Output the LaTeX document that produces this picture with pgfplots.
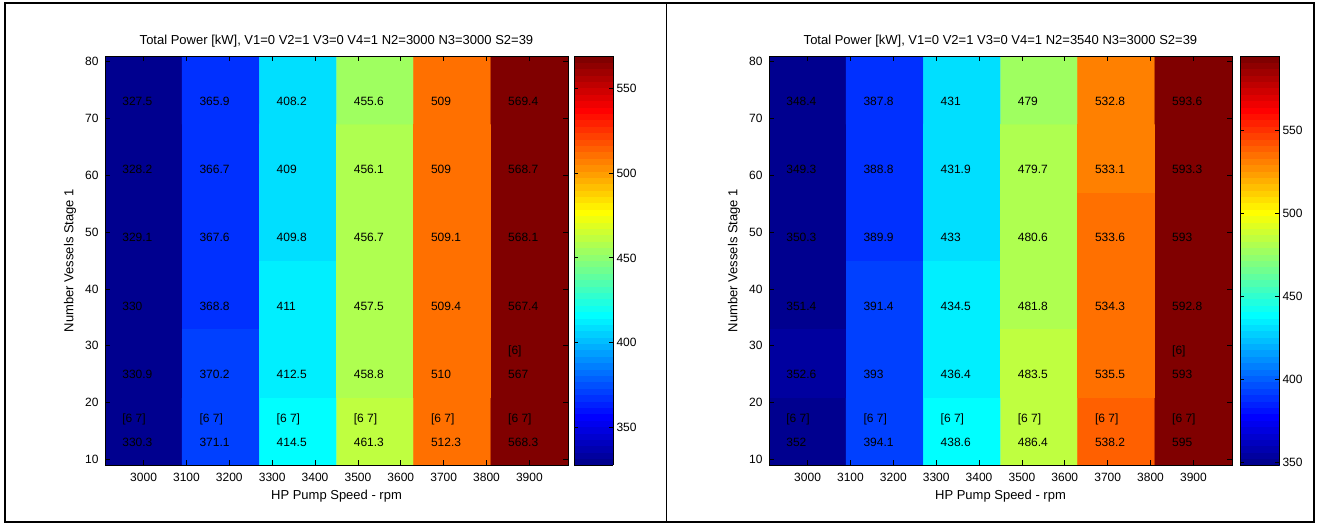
\documentclass[border=0pt]{standalone}
\usepackage{pgfplots}
\usepackage{pgfplotstable}
\pgfplotsset{compat=1.18}
\usepackage{fontspec}
\setmainfont{Liberation Sans}
\newcommand\fsz{\fontsize{12bp}{14bp}\selectfont}
\newcommand\fsl{\fontsize{13bp}{15bp}\selectfont}

\pgfplotsset{
  colormap={matjet}{rgb(0cm)=(0,0,0.5625) rgb(7cm)=(0,0,1) rgb(23cm)=(0,1,1) rgb(39cm)=(1,1,0) rgb(55cm)=(1,0,0) rgb(63cm)=(0.5,0,0)},
  colormap={jetsixtyfour}{samples of colormap=(64 of matjet)},
}

% Left panel: N2=3000
\pgfplotstableread{
x y c
3000 15 330.3
3180 15 371.1
3360 15 414.5
3540 15 461.3
3720 15 512.3
3900 15 568.3
3000 27 330.9
3180 27 370.2
3360 27 412.5
3540 27 458.8
3720 27 510
3900 27 567
3000 39 330
3180 39 368.8
3360 39 411
3540 39 457.5
3720 39 509.4
3900 39 567.4
3000 51 329.1
3180 51 367.6
3360 51 409.8
3540 51 456.7
3720 51 509.1
3900 51 568.1
3000 63 328.2
3180 63 366.7
3360 63 409
3540 63 456.1
3720 63 509
3900 63 568.7
3000 75 327.5
3180 75 365.9
3360 75 408.2
3540 75 455.6
3720 75 509
3900 75 569.4
}\leftdata

% Right panel: N2=3540
\pgfplotstableread{
x y c
3000 15 352
3180 15 394.1
3360 15 438.6
3540 15 486.4
3720 15 538.2
3900 15 595
3000 27 352.6
3180 27 393
3360 27 436.4
3540 27 483.5
3720 27 535.5
3900 27 593
3000 39 351.4
3180 39 391.4
3360 39 434.5
3540 39 481.8
3720 39 534.3
3900 39 592.8
3000 51 350.3
3180 51 389.9
3360 51 433
3540 51 480.6
3720 51 533.6
3900 51 593
3000 63 349.3
3180 63 388.8
3360 63 431.9
3540 63 479.7
3720 63 533.1
3900 63 593.3
3000 75 348.4
3180 75 387.8
3360 75 431
3540 75 479
3720 75 532.8
3900 75 593.6
}\rightdata

\pgfplotstableread{
x y t
2950 17 {[6 7]}
3130 17 {[6 7]}
3310 17 {[6 7]}
3490 17 {[6 7]}
3670 17 {[6 7]}
3850 17 {[6 7]}
3850 29 {[6]}
}\brackets

\pgfplotsset{
  heat/.style={
    anchor=south west, scale only axis, width=463bp, height=409bp,
    xmin=2910, xmax=3990, ymin=9, ymax=81,
    xtick={3000,3100,...,3900}, ytick={10,20,...,80},
    tick align=inside, major tick length=5bp,
    axis on top,
    colormap name=jetsixtyfour, colormap access=piecewise constant,
    /pgf/number format/1000 sep={}, /pgf/number format/assume math mode=true,
    tick label style={font=\fsz},
    xticklabel style={yshift=-5bp},
    yticklabel style={xshift=-3bp},
    every axis title/.style={at={(0.5,1)}, anchor=base, yshift=12bp, font=\fsl},
    every axis x label/.style={at={(axis description cs:0.5,-0.0758)}, anchor=center, font=\fsl},
    every axis y label/.style={at={(axis description cs:-0.0756,0.5)}, rotate=90, anchor=center, font=\fsl},
    xlabel={HP Pump Speed - rpm}, ylabel={Number Vessels Stage 1},
    axis line style={line width=0.8bp},
    every tick/.style={black, line width=0.8bp},
    colorbar,
  },
  cbar/.style={
    at={(parent axis.north east)}, anchor=north west, xshift=#1,
    scale only axis, width=39bp,
    ytick={350,400,...,550}, tick align=inside, major tick length=4bp,
    ytick pos=both, yticklabel pos=right,
    tick label style={font=\fsz},
    /pgf/number format/assume math mode=true,
    axis line style={line width=0.8bp},
  },
  vals/.style={draw=none, nodes near coords, point meta=explicit symbolic,
    nodes near coords style={anchor=west, inner sep=0pt, font=\fsz, text=black}},
}

\begin{document}
\begin{tikzpicture}
\useasboundingbox (0,0) rectangle (1321bp,524bp);
\fill[white] (0,0) rectangle (1321bp,524bp);
\draw[line width=1.6bp] (5bp,2bp) rectangle (666.5bp,521bp);
\draw[line width=1.6bp] (666.5bp,2bp) rectangle (1314bp,521bp);

\begin{axis}[heat, at={(105bp,59bp)},
  point meta min=327.5, point meta max=569.4,
  title={Total Power [kW], V1=0 V2=1 V3=0 V4=1 N2=3000 N3=3000 S2=39},
  colorbar style={cbar=-2.5bp}]
\addplot[matrix plot*, mesh/cols=6, point meta=explicit] table[meta=c] {\leftdata};
\addplot[vals] table[x expr=\thisrow{x}-50, y expr=\thisrow{y}-2, meta=c] {\leftdata};
\addplot[vals] table[meta=t] {\brackets};
\end{axis}

\begin{axis}[heat, at={(769bp,59bp)},
  point meta min=348.4, point meta max=595,
  title={Total Power [kW], V1=0 V2=1 V3=0 V4=1 N2=3540 N3=3000 S2=39},
  colorbar style={cbar=-0.5bp}]
\addplot[matrix plot*, mesh/cols=6, point meta=explicit] table[meta=c] {\rightdata};
\addplot[vals] table[x expr=\thisrow{x}-50, y expr=\thisrow{y}-2, meta=c] {\rightdata};
\addplot[vals] table[meta=t] {\brackets};
\end{axis}
\end{tikzpicture}
\end{document}
